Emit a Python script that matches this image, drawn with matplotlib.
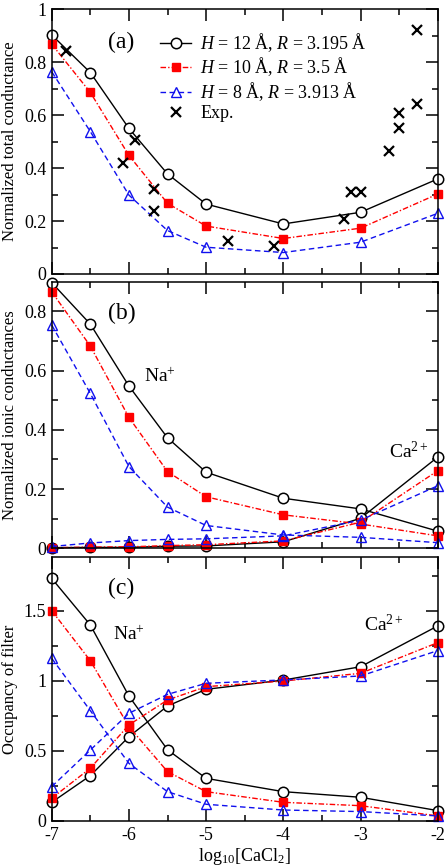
import numpy as np
import matplotlib.pyplot as plt
from matplotlib.ticker import MultipleLocator, FuncFormatter

plt.rcParams['font.family'] = ['Liberation Serif', 'DejaVu Serif']
plt.rcParams['mathtext.fontset'] = 'custom'
plt.rcParams['mathtext.rm'] = 'Liberation Serif'
plt.rcParams['mathtext.it'] = 'Liberation Serif:italic'

x = [-7, -6.5, -6, -5.5, -5, -4, -3, -2]

# (a) total conductance
tot_h12 = [0.903, 0.761, 0.550, 0.378, 0.264, 0.189, 0.233, 0.359]
tot_h10 = [0.868, 0.686, 0.448, 0.267, 0.181, 0.134, 0.173, 0.302]
tot_h8 = [0.764, 0.538, 0.298, 0.164, 0.101, 0.081, 0.120, 0.229]
exp_x = [-6.82, -6.08, -5.92, -5.68, -5.68, -4.71, -4.12, -3.21, -3.12,
         -2.99, -2.63, -2.50, -2.50, -2.27, -2.27]
exp_y = [0.844, 0.421, 0.506, 0.321, 0.238, 0.126, 0.106, 0.208, 0.309,
         0.309, 0.466, 0.550, 0.607, 0.642, 0.922]

# (b) ionic conductances
na_g_h12 = [0.897, 0.757, 0.548, 0.373, 0.257, 0.169, 0.133, 0.058]
na_g_h10 = [0.866, 0.683, 0.442, 0.259, 0.174, 0.113, 0.082, 0.042]
na_g_h8 = [0.754, 0.523, 0.276, 0.139, 0.077, 0.045, 0.037, 0.019]
ca_g_h12 = [0.002, 0.003, 0.003, 0.007, 0.008, 0.022, 0.101, 0.308]
ca_g_h10 = [0.002, 0.004, 0.005, 0.009, 0.012, 0.025, 0.088, 0.262]
ca_g_h8 = [0.006, 0.018, 0.026, 0.030, 0.032, 0.042, 0.095, 0.211]

# (c) occupancy
na_occ_h12 = [1.730, 1.398, 0.891, 0.508, 0.304, 0.209, 0.169, 0.074]
na_occ_h10 = [1.500, 1.143, 0.673, 0.352, 0.209, 0.133, 0.109, 0.036]
na_occ_h8 = [1.160, 0.787, 0.411, 0.209, 0.119, 0.078, 0.067, 0.036]
ca_occ_h12 = [0.133, 0.323, 0.601, 0.820, 0.939, 1.005, 1.100, 1.391]
ca_occ_h10 = [0.162, 0.376, 0.685, 0.863, 0.958, 0.998, 1.053, 1.272]
ca_occ_h8 = [0.245, 0.506, 0.768, 0.903, 0.982, 1.006, 1.034, 1.215]

labels = ['$H$ = 12 Å, $R$ = 3.195 Å', '$H$ = 10 Å, $R$ = 3.5 Å',
          '$H$ = 8 Å, $R$ = 3.913 Å']

RED = '#ff0000'
BLUE = '#1010ee'
styles = [
    dict(color='black', ls='-', marker='o', ms=7.5, mfc='white', mec='black', mew=1.1),
    dict(color=RED, ls=(0, (4, 1.5, 1, 1.5)), marker='s', ms=5.8, mfc=RED, mec=RED),
    dict(color=BLUE, ls=(0, (4, 2.5)), marker='^', ms=7, mfc='none', mec=BLUE, mew=1.0),
]

fig = plt.figure(figsize=(4.47, 8.67), dpi=100)
left, width = 0.1157, 0.8635
ax_a = fig.add_axes([left, 0.684, width, 0.3053])
ax_b = fig.add_axes([left, 0.3676, width, 0.3074])
ax_c = fig.add_axes([left, 0.0531, width, 0.3048])

fmt = FuncFormatter(lambda v, p: ('%g' % v).replace('\u2212', '-'))


def style_axis(ax, ymax, ymajor, yminor):
    ax.set_xlim(-7, -2)
    ax.set_ylim(0, ymax)
    ax.xaxis.set_major_locator(MultipleLocator(1))
    ax.xaxis.set_minor_locator(MultipleLocator(0.5))
    ax.yaxis.set_major_locator(MultipleLocator(ymajor))
    ax.yaxis.set_minor_locator(MultipleLocator(yminor))
    ax.tick_params(which='both', direction='in', top=True, right=True,
                   labelsize=13, width=1.1, pad=4)
    ax.tick_params(which='major', length=8.5)
    ax.tick_params(which='minor', length=4.3)
    ax.xaxis.set_major_formatter(fmt)
    ax.yaxis.set_major_formatter(fmt)
    for s in ax.spines.values():
        s.set_linewidth(1.1)


def set_ylab(ax, text):
    ax.set_ylabel(text, fontsize=12, va='center')
    ax.yaxis.set_label_coords(-0.108, 0.5)


# panel a
for yv, st, lab in zip([tot_h12, tot_h10, tot_h8], styles, labels):
    ax_a.plot(x, yv, lw=1.0, label=lab, clip_on=False, **st)
ax_a.plot(exp_x, exp_y, ls='none', marker='x', ms=6.5, mew=1.6, color='black',
          label='Exp.')
style_axis(ax_a, 1.0, 0.2, 0.1)
ax_a.set_xticklabels([])
set_ylab(ax_a, 'Normalized total conductance')
ax_a.text(-6.27, 0.875, '(a)', fontsize=17, va='center', ha='left')
ax_a.legend(loc='upper left', bbox_to_anchor=(0.28, 0.918), frameon=False,
            fontsize=13, handlelength=1.75, handletextpad=0.5,
            labelspacing=0.1, borderaxespad=0, borderpad=0)

# panel b
for na, ca, st in zip([na_g_h12, na_g_h10, na_g_h8], [ca_g_h12, ca_g_h10, ca_g_h8], styles):
    ax_b.plot(x, na, lw=1.0, clip_on=False, **st)
    ax_b.plot(x, ca, lw=1.0, clip_on=False, **st)
style_axis(ax_b, 0.9, 0.2, 0.1)
ax_b.set_xticklabels([])
set_ylab(ax_b, 'Normalized ionic conductances')
ax_b.text(-6.27, 0.794, '(b)', fontsize=17, va='center', ha='left')
ax_b.text(-5.81, 0.579, 'Na$^{+}$', fontsize=14, va='center', ha='left')
ax_b.text(-2.63, 0.326, 'Ca$^{2+}$', fontsize=14, va='center', ha='left')

# panel c
for na, ca, st in zip([na_occ_h12, na_occ_h10, na_occ_h8],
                      [ca_occ_h12, ca_occ_h10, ca_occ_h8], styles):
    ax_c.plot(x, na, lw=1.0, clip_on=False, **st)
    ax_c.plot(x, ca, lw=1.0, clip_on=False, **st)
style_axis(ax_c, 1.885, 0.5, 0.25)
set_ylab(ax_c, 'Occupancy of filter')
ax_c.set_xlabel('log$_{10}$[CaCl$_2$]', fontsize=13, labelpad=2)
ax_c.text(-6.27, 1.66, '(c)', fontsize=17, va='center', ha='left')
ax_c.text(-6.21, 1.327, 'Na$^{+}$', fontsize=14, va='center', ha='left')
ax_c.text(-2.96, 1.40, 'Ca$^{2+}$', fontsize=14, va='center', ha='left')

fig.savefig('out.png', dpi=100)
